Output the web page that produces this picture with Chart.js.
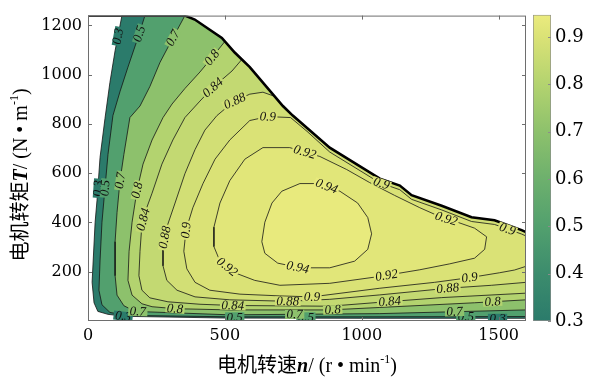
<!DOCTYPE html>
<html>
<head>
<meta charset="utf-8">
<script src="https://cdn.jsdelivr.net/npm/chart.js@4.4.1/dist/chart.umd.min.js"></script>
<style>
  body { margin: 0; background: #fff; }
  #wrap { position: relative; width: 598px; height: 381px; }
  #wrap canvas { position: absolute; left: 0; top: 0; }
</style>
</head>
<body>
<div id="wrap">
  <canvas id="map" width="598" height="381"></canvas>
  <canvas id="bar" width="598" height="381"></canvas>
</div>
<script>
// 电机效率MAP图：横轴转速 n (r/min)，纵轴转矩 T (N·m)
const xTicks = [0, 500, 1000, 1500];
const yTicks = [200, 400, 600, 800, 1000, 1200];
const cbTicks = [0.3, 0.4, 0.5, 0.6, 0.7, 0.8, 0.9];
const cbRange = [0.3, 0.947];
const levels = [0.3, 0.5, 0.7, 0.8, 0.84, 0.88, 0.9, 0.92, 0.94];

// 外特性曲线（最大转矩）
const envelope = [[0,1240],[354,1240],[390,1224],[489,1149],[536,1090],[591,1031],[712,873],[748,834],
  [883,704],[1066,578],[1139,550],[1182,511],[1292,468],[1401,421],[1485,409],[1584,369],[1600,361]];

// 等效率线 [n, T]，从外特性曲线出发，沿左侧、底部到右边界
const eta30 = [[124,1240],[99,1098],[80,968],[62,822],[44,664],[33,491],[26,401],[15,157],[22,74],
  [36,39],[73,27],[135,19],[500,12],[1000,11],[1600,11]];
const eta50 = [[208,1240],[182,1149],[146,1031],[117,932],[91,834],[73,676],[62,539],[51,401],[44,244],
  [40,125],[51,66],[80,35],[135,23],[518,17],[1000,17],[1600,18]];
const eta70 = [[354,1240],[310,1149],[263,1050],[226,952],[190,873],[153,826],[131,676],[117,570],
  [106,440],[99,322],[99,184],[106,105],[131,62],[172,39],[518,25],[1066,30],[1600,45]];
const eta80 = [[500,1135],[453,1070],[409,1011],[354,944],[307,881],[274,826],[234,735],[201,637],
  [179,531],[161,401],[150,283],[146,165],[161,105],[197,70],[234,58],[318,50],[518,45],[883,45],
  [1066,55],[1412,74],[1600,86]];
const eta84 = [[562,1062],[526,1015],[456,948],[409,893],[354,826],[310,735],[270,637],[234,519],
  [208,440],[197,393],[190,283],[186,184],[197,125],[226,94],[292,78],[409,68],[529,63],[883,60],
  [1066,76],[1292,95],[1600,113]];
const eta88 = [[682,912],[639,929],[591,921],[536,893],[500,861],[471,834],[427,775],[391,696],
  [354,598],[318,479],[288,381],[274,302],[274,224],[288,165],[325,125],[391,98],[518,86],[730,80],
  [883,88],[1066,106],[1314,133],[1474,145],[1600,157]];
// 闭合等效率线
const eta90 = [[740,826],[657,830],[591,814],[518,735],[464,657],[420,558],[383,460],[358,369],
  [350,283],[361,212],[391,157],[445,125],[555,109],[700,102],[818,98],[1066,133],[1266,157],
  [1394,176],[1504,196],[1558,207],[1600,222],[1600,345],[1584,353],[1485,392],[1401,404],
  [1292,451],[1182,494],[1139,533],[1066,561],[883,686],[800,770]];
const eta92 = [[639,704],[573,657],[518,570],[482,479],[460,381],[460,302],[482,243],[536,196],
  [609,165],[701,145],[883,153],[1066,181],[1212,208],[1321,232],[1412,255],[1449,291],[1456,342],
  [1412,377],[1350,401],[1285,424],[1212,460],[1120,510],[1029,562],[945,615],[847,668],[737,704]];
const eta94 = [[635,322],[646,401],[672,479],[708,527],[774,558],[847,558],[920,527],[985,479],
  [1022,420],[1036,354],[1022,291],[974,243],[883,216],[774,216],[693,235],[646,275]];

// 等值线标注 [效率, n, T]
const contourLabels = [
  [0.3,106,1157],[0.3,36,539],[0.3,128,15],[0.3,1496,11],
  [0.5,190,1165],[0.5,69,539],[0.5,536,17],[0.5,796,17],[0.5,1380,18],
  [0.7,310,1149],[0.7,117,570],[0.7,182,36],[0.7,755,27],[0.7,1339,38],
  [0.8,453,1070],[0.8,179,531],[0.8,318,50],[0.8,894,45],[0.8,1478,78],
  [0.84,456,948],[0.84,197,413],[0.84,529,63],[0.84,1102,80],
  [0.88,536,893],[0.88,274,341],[0.88,730,80],[0.88,1314,133],
  [0.9,657,830],[0.9,354,369],[0.9,818,98],[0.9,1394,176],[0.9,1069,550],[0.9,1533,375],
  [0.92,792,686],[0.92,511,224],[0.92,1091,182],[0.92,1310,420],
  [0.94,766,216],[0.94,872,548]
];

const openLines = { 0.3: eta30, 0.5: eta50, 0.7: eta70, 0.8: eta80, 0.84: eta84, 0.88: eta88 };
const loops = { 0.9: eta90, 0.92: eta92, 0.94: eta94 };

// 色带
const cmapStops = [[0.3,'#2b7b6b'],[0.4,'#3c8c6d'],[0.5,'#52a06e'],[0.6,'#6db06d'],
  [0.7,'#8dc16c'],[0.8,'#b3d36f'],[0.9,'#dae276'],[0.947,'#ebeb7e']];

function hex(c) { return [1, 3, 5].map(i => parseInt(c.slice(i, i + 2), 16)); }
function cmap(v) {
  for (let i = 0; i < cmapStops.length - 1; i++) {
    const [v0, c0] = cmapStops[i], [v1, c1] = cmapStops[i + 1];
    if (v <= v1 || i === cmapStops.length - 2) {
      const t = Math.max(0, Math.min(1, (v - v0) / (v1 - v0)));
      const a = hex(c0), b = hex(c1);
      return 'rgb(' + a.map((x, k) => Math.round(x + (b[k] - x) * t)).join(',') + ')';
    }
  }
}

const pts = arr => arr.map(([x, y]) => ({ x, y }));
function strokePath(lv) {
  return loops[lv] ? loops[lv].concat([loops[lv][0]]) : openLines[lv];
}
function fillPath(lv) {
  if (loops[lv]) return strokePath(lv);
  const line = openLines[lv];
  const back = envelope.filter(p => p[0] > line[0][0]).reverse();
  return line.concat(back, [line[0]]);
}

const datasets = [];
levels.forEach(lv => datasets.push({
  data: pts(fillPath(lv)), fill: 'shape', backgroundColor: cmap(lv),
  borderColor: 'transparent', borderWidth: 0
}));
levels.forEach(lv => datasets.push({
  data: pts(strokePath(lv)), fill: false, borderColor: '#151515', borderWidth: 0.8
}));
datasets.push({ data: pts(envelope), fill: false, borderColor: '#000', borderWidth: 2.6 });
datasets.forEach((d, i) => { d.order = -i; });

const serif = 'DejaVu Serif';

function drawRich(ctx, parts, x, y, rotate) {
  ctx.save();
  ctx.translate(x, y);
  if (rotate) ctx.rotate(-Math.PI / 2);
  ctx.textBaseline = 'alphabetic';
  ctx.fillStyle = '#000';
  let total = 0;
  parts.forEach(p => { ctx.font = p.f; p.w = ctx.measureText(p.t).width; total += p.w; });
  let cx = -total / 2;
  parts.forEach(p => { ctx.font = p.f; ctx.fillText(p.t, cx, p.dy || 0); cx += p.w; });
  ctx.restore();
}

const labelPlugin = {
  id: 'contourLabels',
  afterDatasetsDraw(chart) {
    const { ctx, chartArea: area, scales: { x, y } } = chart;
    ctx.save();
    ctx.beginPath();
    ctx.rect(area.left, area.top, area.width, area.height);
    ctx.clip();
    ctx.font = 'italic 13px "Liberation Serif"';
    ctx.textAlign = 'center';
    ctx.textBaseline = 'middle';
    contourLabels.forEach(([lv, n, t]) => {
      const path = strokePath(lv).map(([a, b]) => [x.getPixelForValue(a), y.getPixelForValue(b)]);
      const px = x.getPixelForValue(n), py = y.getPixelForValue(t);
      let best = null;
      for (let i = 0; i < path.length - 1; i++) {
        const [x1, y1] = path[i], [x2, y2] = path[i + 1];
        const dx = x2 - x1, dy = y2 - y1;
        const len2 = dx * dx + dy * dy || 1;
        const u = Math.max(0, Math.min(1, ((px - x1) * dx + (py - y1) * dy) / len2));
        const qx = x1 + u * dx, qy = y1 + u * dy;
        const d = (qx - px) ** 2 + (qy - py) ** 2;
        if (!best || d < best.d) best = { d, qx, qy, a: Math.atan2(dy, dx) };
      }
      let a = best.a;
      if (a > Math.PI / 2) a -= Math.PI;
      if (a < -Math.PI / 2) a += Math.PI;
      const txt = String(lv);
      const w = ctx.measureText(txt).width;
      ctx.save();
      ctx.translate(best.qx, best.qy);
      ctx.rotate(a);
      ctx.fillStyle = cmap(lv);
      ctx.fillRect(-w / 2 - 1.5, -4.5, w + 3, 9);
      ctx.fillStyle = '#111';
      ctx.fillText(txt, 0, 0.5);
      ctx.restore();
    });
    ctx.restore();
  }
};

const framePlugin = {
  id: 'frame',
  afterDraw(chart) {
    const { ctx, chartArea: a, scales: { x, y } } = chart;
    ctx.save();
    ctx.strokeStyle = '#6e6e6e';
    ctx.lineWidth = 1;
    ctx.strokeRect(a.left + 0.5, a.top + 0.5, a.width - 1, a.height - 1);
    ctx.beginPath();
    xTicks.forEach(v => {
      const px = Math.round(x.getPixelForValue(v)) + 0.5;
      if (px < a.left + 2) return;
      ctx.moveTo(px, a.bottom); ctx.lineTo(px, a.bottom - 4);
      ctx.moveTo(px, a.top); ctx.lineTo(px, a.top + 4);
    });
    yTicks.forEach(v => {
      const py = Math.round(y.getPixelForValue(v)) + 0.5;
      ctx.moveTo(a.left, py); ctx.lineTo(a.left + 4, py);
      ctx.moveTo(a.right, py); ctx.lineTo(a.right - 4, py);
    });
    ctx.stroke();
    ctx.restore();

    const cjk = '20px "Noto Sans CJK SC"';
    const lat = '20px "Liberation Serif"';
    const sup = '12px "Liberation Serif"';
    const ital = 'italic bold 20px "Liberation Serif"';
    drawRich(ctx, [
      { t: '电机转速', f: cjk },
      { t: 'n', f: ital },
      { t: '/ (r • min', f: lat },
      { t: '-1', f: sup, dy: -9 },
      { t: ')', f: lat }
    ], (a.left + a.right) / 2, 372, false);
    drawRich(ctx, [
      { t: '电机转矩', f: cjk },
      { t: 'T', f: ital },
      { t: '/ (N • m', f: lat },
      { t: '-1', f: sup, dy: -9 },
      { t: ')', f: lat }
    ], 27, 175, true);
  }
};

new Chart(document.getElementById('map'), {
  type: 'line',
  data: { datasets },
  options: {
    responsive: false,
    animation: false,
    events: [],
    layout: { padding: { left: 0, top: 7, right: 72, bottom: 0 } },
    elements: { point: { radius: 0 }, line: { tension: 0 } },
    plugins: { legend: { display: false }, tooltip: { enabled: false } },
    scales: {
      x: {
        type: 'linear', min: 0, max: 1600,
        afterFit: s => { s.height = 60; },
        afterBuildTicks: s => { s.ticks = xTicks.map(v => ({ value: v })); },
        grid: { display: false, drawTicks: false },
        border: { display: false },
        ticks: { padding: 5, color: '#000', font: { family: serif, size: 16 }, callback: v => String(v) }
      },
      y: {
        type: 'linear', min: 0, max: 1240,
        afterFit: s => { s.width = 88; },
        afterBuildTicks: s => { s.ticks = yTicks.map(v => ({ value: v })); },
        grid: { display: false, drawTicks: false },
        border: { display: false },
        ticks: { padding: 6, color: '#000', font: { family: serif, size: 16 }, callback: v => String(v) }
      }
    }
  },
  plugins: [labelPlugin, framePlugin]
});

// 色标
function barGradient(chart) {
  const { ctx, chartArea, scales } = chart;
  if (!chartArea) return cmap(0.6);
  const y = scales.y;
  const g = ctx.createLinearGradient(0, y.getPixelForValue(cbRange[0]), 0, y.getPixelForValue(cbRange[1]));
  cmapStops.forEach(([v, c]) => g.addColorStop((v - cbRange[0]) / (cbRange[1] - cbRange[0]), c));
  return g;
}

new Chart(document.getElementById('bar'), {
  type: 'bar',
  data: {
    labels: ['效率'],
    datasets: [{
      data: [cbRange],
      backgroundColor: ctx => barGradient(ctx.chart),
      borderColor: '#8c8c8c', borderWidth: 1, borderSkipped: false,
      barPercentage: 1, categoryPercentage: 1
    }]
  },
  options: {
    responsive: false,
    animation: false,
    events: [],
    layout: { padding: { left: 533, top: 8, right: 0, bottom: 60 } },
    plugins: { legend: { display: false }, tooltip: { enabled: false } },
    scales: {
      x: { display: false },
      y: {
        position: 'right', min: cbRange[0], max: cbRange[1],
        afterFit: s => { s.width = 47; },
        afterBuildTicks: s => { s.ticks = cbTicks.map(v => ({ value: v })); },
        grid: { display: false, drawTicks: false },
        border: { display: false },
        ticks: { padding: 4, color: '#000', font: { family: serif, size: 18 }, callback: v => v.toFixed(1) }
      }
    }
  },
  plugins: [{
    id: 'cbTicks',
    afterDraw(chart) {
      const { ctx, chartArea: a, scales: { y } } = chart;
      ctx.save();
      ctx.strokeStyle = '#8c8c8c';
      ctx.beginPath();
      cbTicks.forEach(v => {
        const py = Math.round(y.getPixelForValue(v)) + 0.5;
        ctx.moveTo(a.right, py); ctx.lineTo(a.right - 3, py);
      });
      ctx.stroke();
      ctx.restore();
    }
  }]
});
</script>
</body>
</html>
